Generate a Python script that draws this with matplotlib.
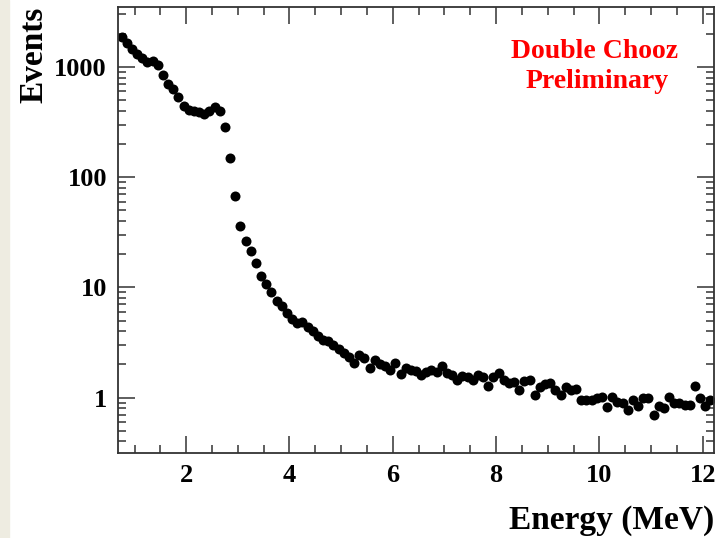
import numpy as np
import matplotlib
matplotlib.use("Agg")
import matplotlib.pyplot as plt
from matplotlib.ticker import LogLocator, FixedLocator, MultipleLocator, NullFormatter
from matplotlib.patches import Rectangle

# ── data (bin centre in MeV, events per bin) ─────────────────────────────────
energy = [
    0.75, 0.85, 0.95, 1.05, 1.15, 1.25, 1.35, 1.45, 1.55, 1.65,
    1.75, 1.85, 1.95, 2.05, 2.15, 2.25, 2.35, 2.45, 2.55, 2.65,
    2.75, 2.85, 2.95, 3.05, 3.15, 3.25, 3.35, 3.45, 3.55, 3.65,
    3.75, 3.85, 3.95, 4.05, 4.15, 4.25, 4.35, 4.45, 4.55, 4.65,
    4.75, 4.85, 4.95, 5.05, 5.15, 5.25, 5.35, 5.45, 5.55, 5.65,
    5.75, 5.85, 5.95, 6.05, 6.15, 6.25, 6.35, 6.45, 6.55, 6.65,
    6.75, 6.85, 6.95, 7.05, 7.15, 7.25, 7.35, 7.45, 7.55, 7.65,
    7.75, 7.85, 7.95, 8.05, 8.15, 8.25, 8.35, 8.45, 8.55, 8.65,
    8.75, 8.85, 8.95, 9.05, 9.15, 9.25, 9.35, 9.45, 9.55, 9.65,
    9.75, 9.85, 9.95, 10.05, 10.15, 10.25, 10.35, 10.45, 10.55, 10.65,
    10.75, 10.85, 10.95, 11.05, 11.15, 11.25, 11.35, 11.45, 11.55, 11.65,
    11.75, 11.85, 11.95, 12.05, 12.15,
]
events = [
    1860, 1650, 1460, 1310, 1195, 1110, 1140, 1050, 840, 700,
    627, 530, 442, 409, 398, 391, 374, 398, 435, 401,
    286, 149, 68, 35.9, 26.2, 21.2, 16.7, 12.6, 10.7, 9.14,
    7.46, 6.8, 5.85, 5.16, 4.75, 4.85, 4.37, 4.06, 3.64, 3.35,
    3.23, 3.01, 2.77, 2.53, 2.33, 2.08, 2.44, 2.3, 1.87, 2.18,
    2.0, 1.94, 1.78, 2.06, 1.64, 1.85, 1.79, 1.76, 1.61, 1.72,
    1.79, 1.69, 1.94, 1.67, 1.61, 1.45, 1.57, 1.55, 1.45, 1.61,
    1.53, 1.28, 1.55, 1.67, 1.45, 1.35, 1.37, 1.17, 1.40, 1.43,
    1.06, 1.26, 1.33, 1.35, 1.17, 1.06, 1.26, 1.17, 1.19, 0.95,
    0.95, 0.95, 0.99, 1.02, 0.82, 1.02, 0.92, 0.89, 0.77, 0.95,
    0.83, 0.99, 0.99, 0.70, 0.83, 0.80, 1.02, 0.90, 0.89, 0.86,
    0.86, 1.28, 0.99, 0.83, 0.95,
]
x_ticks = [2, 4, 6, 8, 10, 12]
y_ticks = [1, 10, 100, 1000]
y_tick_labels = ["1", "10", "100", "1000"]

SERIF = ["Liberation Serif", "DejaVu Serif"]
RED = "#ff0000"

fig = plt.figure(figsize=(7.2, 5.38), dpi=100)
# beige slide strip on the far left
fig.patches.append(Rectangle((0, 0), 9 / 720, 1, transform=fig.transFigure,
                             color="#eeece1", zorder=0))

ax = fig.add_axes([118 / 720, 85 / 538, 596 / 720, 446 / 538])
ax.plot(energy, events, "o", color="black", ms=7.2, mew=0)

ax.set_yscale("log")
ax.set_xlim(0.68, 12.22)
ax.set_ylim(0.314, 3500)

ax.xaxis.set_major_locator(FixedLocator(x_ticks))
ax.xaxis.set_minor_locator(MultipleLocator(0.5))
ax.yaxis.set_major_locator(FixedLocator(y_ticks))
ax.yaxis.set_minor_locator(LogLocator(base=10, subs=np.arange(2, 10)))
ax.yaxis.set_minor_formatter(NullFormatter())
ax.set_yticklabels(y_tick_labels)

# ROOT-style ticks: inward, on all four sides
ax.tick_params(which="both", direction="in", top=True, right=True,
               width=1.1, color="#333333")
ax.tick_params(which="major", length=12, pad=8)
ax.tick_params(which="minor", length=6)
for lab in ax.get_xticklabels() + ax.get_yticklabels():
    lab.set_fontfamily(SERIF)
    lab.set_fontweight("bold")
    lab.set_fontsize(19)
for s in ax.spines.values():
    s.set_linewidth(1.3)
    s.set_color("#333333")

fig.text(34 / 720, 1 - 7 / 538, "Events", rotation=90, ha="center", va="top",
         family=SERIF, weight="bold", fontsize=24)
fig.text(714 / 720, 1 - 520 / 538, "Energy (MeV)", ha="right", va="center",
         family=SERIF, weight="bold", fontsize=24)

fig.text(595 / 720, 1 - 52 / 538, "Double Chooz", ha="center", va="center",
         family=SERIF, weight="bold", fontsize=20, color=RED)
fig.text(597 / 720, 1 - 81 / 538, "Preliminary", ha="center", va="center",
         family=SERIF, weight="bold", fontsize=20, color=RED)

fig.savefig("out.png", dpi=100)
